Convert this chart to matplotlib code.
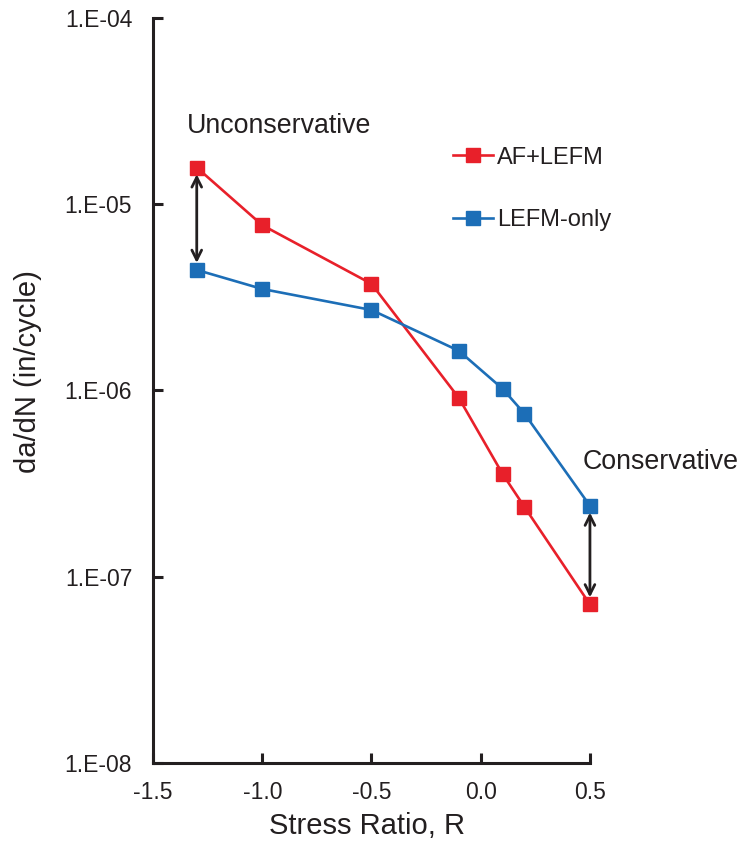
import matplotlib
matplotlib.use("Agg")
import matplotlib.pyplot as plt
from matplotlib.ticker import FixedLocator, NullLocator

plt.rcParams['font.family'] = ['Liberation Sans', 'DejaVu Sans']

R = [-1.3, -1.0, -0.5, -0.1, 0.1, 0.2, 0.5]
af_lefm = [1.57e-5, 7.7e-6, 3.73e-6, 9.1e-7, 3.56e-7, 2.37e-7, 7.1e-8]
lefm_only = [4.43e-6, 3.5e-6, 2.7e-6, 1.63e-6, 1.02e-6, 7.5e-7, 2.4e-7]
yticks = [1e-8, 1e-7, 1e-6, 1e-5, 1e-4]
ytick_labels = ["1.E-08", "1.E-07", "1.E-06", "1.E-05", "1.E-04"]
xticks = [-1.5, -1.0, -0.5, 0.0, 0.5]
xtick_labels = ["-1.5", "-1.0", "-0.5", "0.0", "0.5"]

red = "#E8202A"
blue = "#1C6EB7"
dark = '#231F20'

fig = plt.figure(figsize=(7.43, 8.44), dpi=100)
ax = fig.add_axes([0.206, 0.096, 0.588, 0.883])

ax.plot(R, af_lefm, color=red, lw=1.9, marker='s', ms=10, label="AF+LEFM", zorder=3, clip_on=False)
ax.plot(R, lefm_only, color=blue, lw=1.9, marker='s', ms=10, label="LEFM-only", zorder=3, clip_on=False)

ax.set_yscale('log')
ax.set_xlim(-1.5, 0.5)
ax.set_ylim(1e-8, 1e-4)
ax.yaxis.set_major_locator(FixedLocator(yticks))
ax.yaxis.set_minor_locator(NullLocator())
ax.set_yticklabels(ytick_labels)
ax.set_xticks(xticks)
ax.set_xticklabels(xtick_labels)

for s in ['top', 'right']:
    ax.spines[s].set_visible(False)
for s in ['left', 'bottom']:
    ax.spines[s].set_linewidth(2.2)
    ax.spines[s].set_color(dark)
ax.tick_params(axis='both', direction='in', length=7, width=2.2, color=dark,
               labelsize=16.5, labelcolor=dark)
ax.tick_params(axis='x', pad=13)
ax.tick_params(axis='y', pad=15)

ax.set_xlabel("Stress Ratio, R", fontsize=21, color=dark)
ax.set_ylabel("da/dN (in/cycle)", fontsize=21, color=dark)
ax.xaxis.set_label_coords(0.49, -0.066)
ax.yaxis.set_label_coords(-0.254, 0.525)

astyle = '<->,head_length=0.7,head_width=0.35'
ax.annotate("", xy=(R[0], af_lefm[0]*0.92), xytext=(R[0], lefm_only[0]*1.09),
            arrowprops=dict(arrowstyle=astyle, color=dark, lw=2, shrinkA=0, shrinkB=0))
ax.annotate("", xy=(R[-1], lefm_only[-1]*0.92), xytext=(R[-1], af_lefm[-1]*1.09),
            arrowprops=dict(arrowstyle=astyle, color=dark, lw=2, shrinkA=0, shrinkB=0),
            annotation_clip=False)

ax.text(-1.344, 2.63e-5, "Unconservative", fontsize=19.3, color=dark, va='center', ha='left')
ax.text(0.468, 4.13e-7, "Conservative", fontsize=19.3, color=dark, va='center', ha='left',
        clip_on=False)

leg = ax.legend(loc='upper left', bbox_to_anchor=(0.686, 0.827), frameon=False, fontsize=17,
                handlelength=1.7, handletextpad=0.17, labelspacing=1.72, borderaxespad=0,
                borderpad=0)
for t in leg.get_texts():
    t.set_color(dark)

fig.savefig("out.png", dpi=100)
